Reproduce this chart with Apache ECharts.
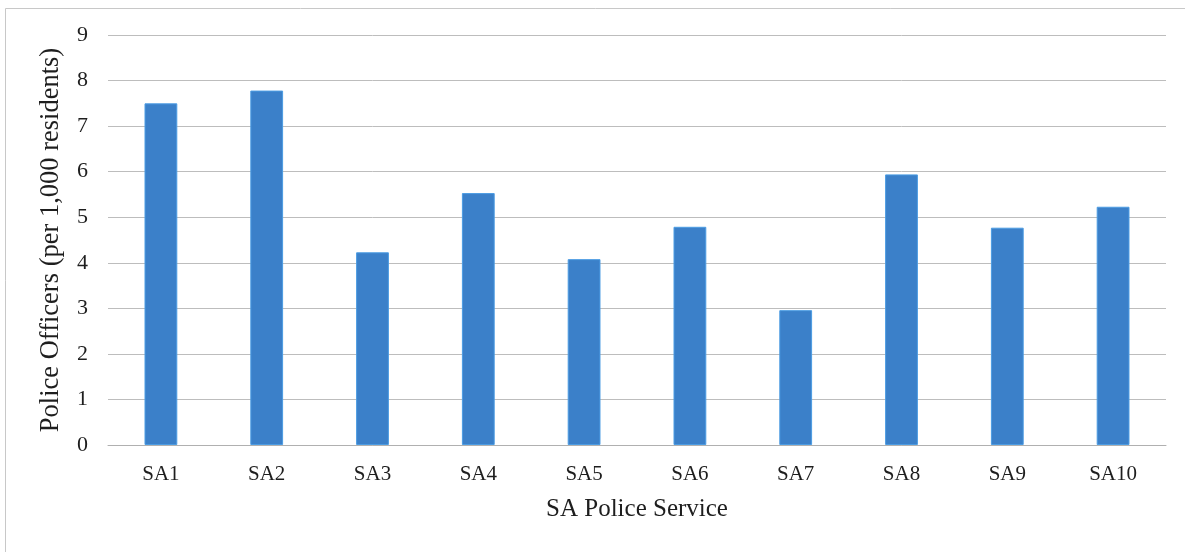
<!DOCTYPE html>
<html>
<head>
<meta charset="utf-8">
<script src="https://cdn.jsdelivr.net/npm/echarts@6/dist/echarts.min.js"></script>
<style>
  html, body { margin: 0; padding: 0; background: #fff; }
  #chart { width: 1185px; height: 552px; }
</style>
</head>
<body>
<div id="chart"></div>
<script>
// police service areas and officers per 1,000 residents
const areas = ['SA1', 'SA2', 'SA3', 'SA4', 'SA5', 'SA6', 'SA7', 'SA8', 'SA9', 'SA10'];
const officers = [7.5, 7.78, 4.23, 5.53, 4.08, 4.79, 2.96, 5.94, 4.77, 5.23];
const yTicks = [0, 1, 2, 3, 4, 5, 6, 7, 8, 9];

const serif = '"Liberation Serif", "DejaVu Serif", serif';

const chart = echarts.init(document.getElementById('chart'), null, { renderer: 'canvas' });

chart.setOption({
  backgroundColor: '#fff',
  animation: false,
  // scanned frame: only the left and top edges are in the picture
  graphic: [{
    type: 'polyline',
    shape: { points: [[5.5, 552], [5.5, 8.5], [1185, 8.5]] },
    style: { fill: 'none', stroke: '#c8c8c8', lineWidth: 1 }
  }],
  grid: { left: 108, right: 19, top: 35, bottom: 107 },
  xAxis: {
    type: 'category',
    data: areas,
    name: 'SA Police Service',
    nameLocation: 'middle',
    nameGap: 52,
    nameTextStyle: { fontFamily: serif, fontSize: 25, color: '#1e1e1e' },
    axisLine: { lineStyle: { color: '#b0b0b0', width: 1 } },
    axisTick: { show: false },
    axisLabel: { fontFamily: serif, fontSize: 21, color: '#1e1e1e', margin: 19 }
  },
  yAxis: {
    type: 'value',
    min: yTicks[0],
    max: yTicks[yTicks.length - 1],
    interval: 1,
    name: 'Police Officers (per 1,000 residents)',
    nameLocation: 'middle',
    nameGap: 43,
    nameTextStyle: { fontFamily: serif, fontSize: 26.5, color: '#1e1e1e' },
    axisLine: { show: false },
    axisTick: { show: false },
    axisLabel: { fontFamily: serif, fontSize: 22, color: '#1e1e1e', margin: 20 },
    splitLine: { lineStyle: { color: '#bdbdbd', width: 1 } }
  },
  series: [{
    type: 'bar',
    data: officers,
    barWidth: '31%',
    itemStyle: { color: '#3b80c9', borderColor: '#4c9ce3', borderWidth: 1 }
  }]
});
</script>
</body>
</html>
